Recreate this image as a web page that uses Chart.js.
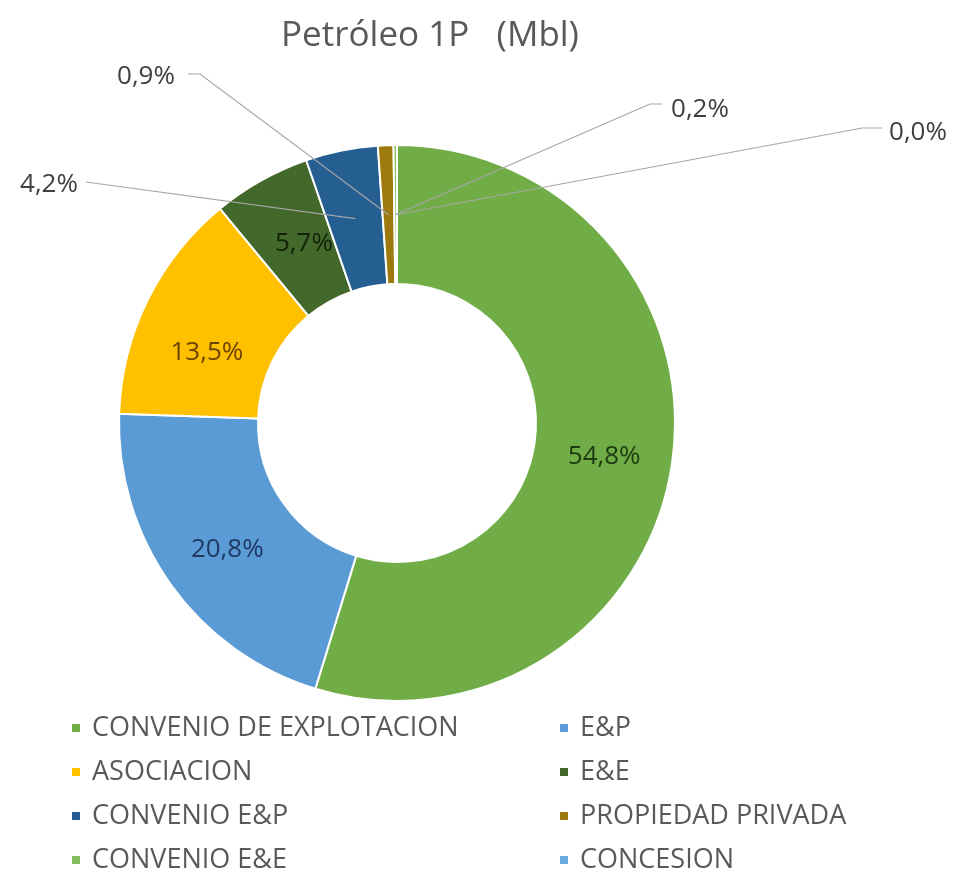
<!DOCTYPE html>
<html>
<head>
<meta charset="utf-8">
<script src="https://cdn.jsdelivr.net/npm/chart.js@4.4.1/dist/chart.umd.min.js"></script>
<style>
  body { margin: 0; background: #fff; }
</style>
</head>
<body>
<canvas id="myChartPetroleo" width="956" height="887"></canvas>
<script>
const titleText = 'Petróleo 1P   (Mbl)';
const categories = ['CONVENIO DE EXPLOTACION', 'E&P', 'ASOCIACION', 'E&E', 'CONVENIO E&P', 'PROPIEDAD PRIVADA', 'CONVENIO E&E', 'CONCESION'];
const shares = [54.8, 20.8, 13.5, 5.7, 4.2, 0.9, 0.2, 0.0];
const sliceColors = ['#70AD47', '#5B9BD5', '#FFC000', '#43682B', '#255E91', '#9E7A0E', '#84BE5E', '#6AA9DC'];
const labelColors = ['#1E3A10', '#1F3864', '#6B4200', '#142308', '#404040', '#404040', '#404040', '#404040'];
const pctLabels = shares.map(v => v.toFixed(1).replace('.', ',') + '%');

const FONT = '"Open Sans", sans-serif';

// small nudges for the labels inside the ring
const inside = {
    0: { dx: 1, dy: 3 },
    1: { dx: 0, dy: 5 },
    2: { dx: -3, dy: 22 },
    3: { dx: 9, dy: 2 }
};
// labels of the thin slices sit outside, with a leader line
// tx,ty = text centre, lx,ly = where the line leaves the text, kx = elbow x
const callouts = {
    4: { tx: 49, ty: 185, lx: 86, ly: 182, kx: 86 },
    5: { tx: 146, ty: 77, lx: 188, ly: 74, kx: 200 },
    6: { tx: 700, ty: 110, lx: 662, ly: 104, kx: 650 },
    7: { tx: 918, ty: 133, lx: 882, ly: 128, kx: 862 }
};

const drawExtras = {
    id: 'drawExtras',
    afterDraw(chart) {
        const ctx = chart.ctx;
        const meta = chart.getDatasetMeta(0);
        ctx.save();

        // title
        ctx.fillStyle = '#595959';
        ctx.font = '35px ' + FONT;
        ctx.textAlign = 'center';
        ctx.textBaseline = 'middle';
        ctx.fillText(titleText, 430, 36);

        // data labels
        ctx.font = '26px ' + FONT;
        meta.data.forEach((arc, i) => {
            const p = arc.tooltipPosition();
            const c = callouts[i];
            ctx.fillStyle = labelColors[i];
            if (c) {
                ctx.strokeStyle = '#A6A6A6';
                ctx.lineWidth = 1.2;
                ctx.beginPath();
                ctx.moveTo(c.lx, c.ly);
                ctx.lineTo(c.kx, c.ly);
                ctx.lineTo(p.x, p.y);
                ctx.stroke();
                ctx.fillText(pctLabels[i], c.tx, c.ty);
            } else {
                const n = inside[i] || { dx: 0, dy: 0 };
                ctx.fillText(pctLabels[i], p.x + n.dx, p.y + n.dy);
            }
        });

        // legend, two columns
        ctx.font = '27px ' + FONT;
        ctx.textAlign = 'left';
        categories.forEach((name, i) => {
            const col = i % 2, row = Math.floor(i / 2);
            const x = col === 0 ? 72 : 560;
            const y = 728 + row * 44;
            ctx.fillStyle = sliceColors[i];
            ctx.fillRect(x, y - 4, 8, 8);
            ctx.fillStyle = '#595959';
            ctx.fillText(name, x + 20, y);
        });
        ctx.restore();
    }
};

new Chart(document.getElementById('myChartPetroleo'), {
    type: 'doughnut',
    data: {
        labels: categories,
        datasets: [{
            data: shares,
            backgroundColor: sliceColors,
            borderColor: '#ffffff',
            borderWidth: 2
        }]
    },
    options: {
        responsive: false,
        animation: false,
        cutout: '50%',
        layout: { padding: { top: 144, bottom: 185, left: 0, right: 162 } },
        plugins: {
            legend: { display: false },
            title: { display: false },
            tooltip: { enabled: false }
        }
    },
    plugins: [drawExtras]
});
</script>
</body>
</html>
